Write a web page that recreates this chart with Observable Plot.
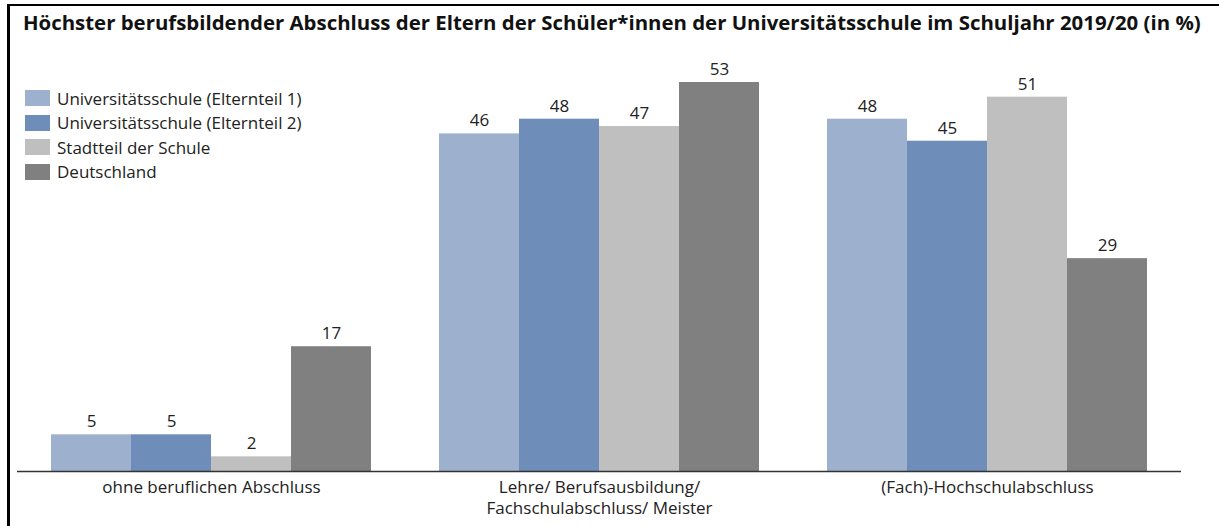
<!DOCTYPE html>
<html>
<head>
<meta charset="utf-8">
<script src="https://cdn.jsdelivr.net/npm/d3@7"></script>
<script src="https://cdn.jsdelivr.net/npm/@observablehq/plot@0.6"></script>
<style>
  html, body { margin: 0; padding: 0; background: #fff; overflow: hidden; }
  body { width: 1219px; height: 526px; position: relative; font-family: "Open Sans", sans-serif; }
  #frame { position: absolute; left: 7px; top: 4px; width: 1300px; height: 600px; border-left: 3px solid #000; border-top: 2px solid #000; box-sizing: border-box; }
  #title { position: absolute; left: 23px; top: 8px; font-size: 20.4px; font-weight: 700; color: #111; white-space: nowrap; }
  #chart { position: absolute; left: 0; top: 50px; }
  #legend { position: absolute; left: 25px; top: 86px; font-size: 17px; color: #222; }
  .item { display: flex; align-items: center; height: 24.5px; }
  .sw { width: 25px; height: 16px; margin-right: 7px; }
</style>
</head>
<body>
<div id="frame"></div>
<div id="title">Höchster berufsbildender Abschluss der Eltern der Schüler*innen der Universitätsschule im Schuljahr 2019/20 (in %)</div>
<div id="chart"></div>
<div id="legend"></div>
<script>
const categories = ["ohne beruflichen Abschluss", "Lehre/ Berufsausbildung/ Fachschulabschluss/ Meister", "(Fach)-Hochschulabschluss"];
const categoryLabels = ["ohne beruflichen Abschluss", "Lehre/ Berufsausbildung/\nFachschulabschluss/ Meister", "(Fach)-Hochschulabschluss"];
const series = ["Universitätsschule (Elternteil 1)", "Universitätsschule (Elternteil 2)", "Stadtteil der Schule", "Deutschland"];
const colors = ["#9db1cf", "#6e8db9", "#bfbfbf", "#808080"];
const elternteil1 = [5, 46, 48];
const elternteil2 = [5, 48, 45];
const stadtteil = [2, 47, 51];
const deutschland = [17, 53, 29];

const seriesValues = [elternteil1, elternteil2, stadtteil, deutschland];
const data = [];
categories.forEach((c, i) => {
  series.forEach((s, j) => data.push({category: c, series: s, value: seriesValues[j][i]}));
});

const plot = Plot.plot({
  width: 1219,
  height: 476,
  marginLeft: 17,
  marginRight: 38,
  marginTop: 32,
  marginBottom: 55,
  style: {fontFamily: "Open Sans", fontSize: "17px", color: "#222", background: "transparent"},
  fx: {domain: categories, padding: 0, label: null, axis: null},
  x: {domain: series, paddingInner: 0, paddingOuter: 0.41, axis: null},
  y: {domain: [0, 53], axis: null},
  color: {domain: series, range: colors},
  marks: [
    Plot.axisFx({anchor: "bottom", tickSize: 0, tickPadding: 6, lineHeight: 1.25, fontSize: 17, fill: "#222",
      tickFormat: d => categoryLabels[categories.indexOf(d)], label: null}),
    Plot.barY(data, {fx: "category", x: "series", y: "value", fill: "series"}),
    Plot.text(data, {fx: "category", x: "series", y: "value", text: d => String(d.value), dy: -13, fontSize: 17, fill: "#222"}),
    Plot.ruleY([0], {stroke: "#333", strokeWidth: 1.5})
  ]
});
document.getElementById("chart").appendChild(plot);

const legend = document.getElementById("legend");
series.forEach((s, i) => {
  const item = document.createElement("div");
  item.className = "item";
  const sw = document.createElement("div");
  sw.className = "sw";
  sw.style.background = colors[i];
  const t = document.createElement("span");
  t.textContent = s;
  item.appendChild(sw);
  item.appendChild(t);
  legend.appendChild(item);
});
</script>
</body>
</html>
